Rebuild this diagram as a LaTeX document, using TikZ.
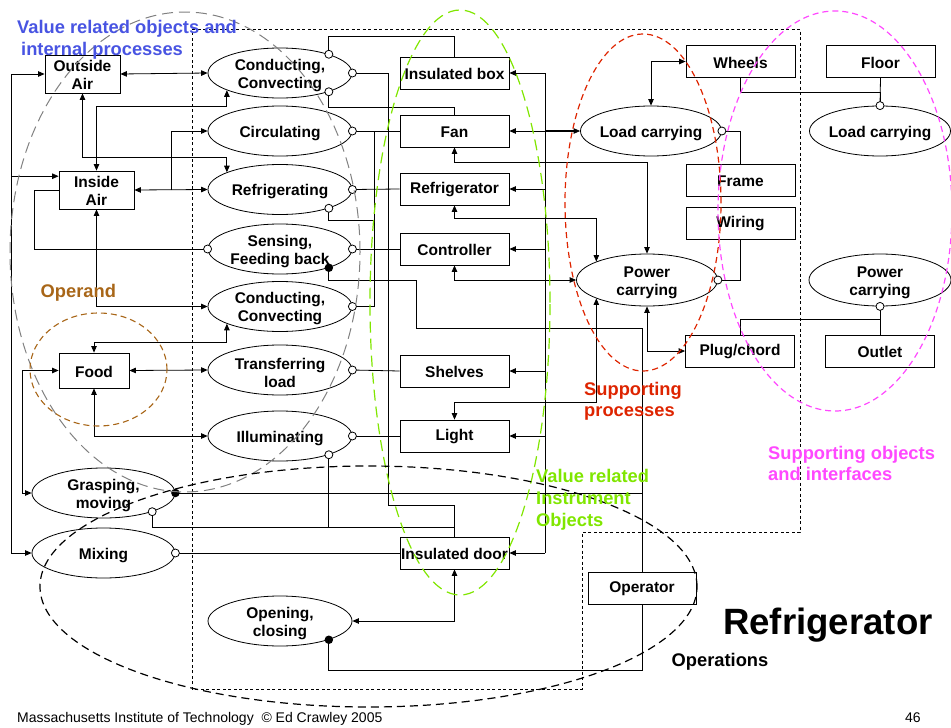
\documentclass[tikz,border=0pt]{standalone}
\usepackage{fontspec}
\setmainfont{Liberation Sans}
\usetikzlibrary{arrows.meta,shapes.geometric,calc}

\definecolor{lblblue}{RGB}{72,84,226}
\definecolor{lblbrown}{RGB}{168,102,24}
\definecolor{lblred}{RGB}{222,36,0}
\definecolor{lblgreen}{RGB}{128,230,0}
\definecolor{lblmagenta}{RGB}{255,72,255}

\begin{document}
\begin{tikzpicture}[x=1pt,y=-1pt,
  >={Triangle[length=6.5pt,width=5.5pt]},
  every node/.style={font=\bfseries\fontsize{15.5}{18}\selectfont},
  obj/.style={draw, line width=0.8pt, fill=white, inner sep=0pt,
    minimum width=109pt, minimum height=32pt, align=center,
    label={[inner sep=0pt, align=center, yshift=-1pt]center:#1}},
  proc/.style={ellipse, draw, line width=0.8pt, fill=white, inner sep=0pt,
    minimum width=144pt, minimum height=50pt,
    label={[inner sep=0pt, align=center, yshift=-2.5pt]center:#1}},
  link/.style={line width=0.8pt},
  ocirc/.style={circle, draw, line width=0.8pt, fill=white, inner sep=0pt, minimum size=8pt},
  fcirc/.style={circle, fill=black, inner sep=0pt, minimum size=8.5pt},
  grp/.style={font=\bfseries\fontsize{18.3}{21.5}\selectfont, anchor=base west, inner sep=0pt},
]
\useasboundingbox (0,0) rectangle (951,728);

% ---------- operand objects ----------
\node[obj={Outside\\Air}, minimum width=75pt, minimum height=38pt] (oair) at (82.5,74) {};
\node[obj={Inside\\Air}, minimum width=75pt, minimum height=38pt] (iair) at (96.5,190) {};
\node[obj=Food, minimum width=70pt, minimum height=35pt] (food) at (94,370.5) {};

% ---------- value related processes ----------
\node[proc={Conducting,\\Convecting}] (cc1)   at (280,73)    {};
\node[proc=Circulating]               (circ)  at (280,131)   {};
\node[proc=Refrigerating]             (refg)  at (280,189.5) {};
\node[proc={Sensing,\\Feeding back}]  (sens)  at (280,249)   {};
\node[proc={Conducting,\\Convecting}] (cc2)   at (280,306.5) {};
\node[proc={Transferring\\load}]      (trans) at (280,370)   {};
\node[proc=Illuminating]              (illum) at (280,436)   {};
\node[proc={Grasping,\\moving}, minimum width=143pt] (grasp) at (103.5,493) {};
\node[proc=Mixing, minimum width=143pt]              (mix)   at (103.5,553) {};
\node[proc={Opening,\\closing}]       (opcl)  at (280,621)   {};

% ---------- instrument objects ----------
\node[obj={Insulated box}]  (ibox)  at (454.5,73)  {};
\node[obj=Fan]              (fan)   at (454.5,131) {};
\node[obj=Refrigerator]     (refr)  at (454.5,189) {};
\node[obj=Controller]       (ctrl)  at (454.5,249) {};
\node[obj=Shelves]          (shelf) at (454.5,371) {};
\node[obj=Light]            (light) at (454.5,436) {};
\node[obj={Insulated door}] (door)  at (454.5,553) {};

% ---------- supporting processes and objects ----------
\node[proc={Load carrying}, minimum width=141pt] (lc1) at (651,131) {};
\node[proc={Power\\carrying}, minimum width=141pt, minimum height=52pt] (pc1) at (647,280) {};
\node[proc={Load carrying}, minimum width=141pt] (lc2) at (880,131) {};
\node[proc={Power\\carrying}, minimum width=142pt, minimum height=52pt] (pc2) at (880,280) {};
\node[obj=Wheels]       (wheels) at (740.5,61.5) {};
\node[obj=Floor]        (floor)  at (880.5,61.5) {};
\node[obj=Frame]        (frame)  at (740.5,180)  {};
\node[obj=Wiring]       (wiring) at (740.5,223)  {};
\node[obj=Plug/chord]   (plug)   at (740,351)    {};
\node[obj=Outlet]       (outlet) at (880,351)    {};
\node[obj=Operator, minimum width=108pt] (op) at (642,588) {};

% ---------- links on the operand side ----------
\begin{scope}[link]
\draw[<->] (oair.west) -- ++(-33,0) |- (mix.west);
\draw[->] ($(oair.west)+(-33,0)$) |- (iair.160);
\draw[<->] (food.west) -- ++(-36,0) |- (grasp.west);
\draw (sens.west) -| ($(iair.west)+(-24,0)$) -- (iair.west);
\draw[<->] (oair.east) -- (cc1.west);
\draw[<->] (oair.south) |- ($(refg.162)+(0,-15)$) -- (refg.162);
\draw[<->] (iair.north) |- ($(cc1.198)+(0,16)$) -- (cc1.198);
\draw[<->] (iair.east) -- (refg.west);
\draw[->] ($(iair.east)+(37,0)$) |- (circ.west);
\draw[<->] (iair.south) |- (cc2.west);
\draw[<->] (food.north) |- ($(cc2.198)+(0,19)$) -- (cc2.198);
\draw[<->] (food.east) -- (trans.west);
\draw[<->] (food.south) |- (illum.west);

% ---------- processes to instrument objects ----------
\draw (cc1.21) -- ++(0,-17.5) -| (ibox.north);
\draw (cc1.east) -| (388,505) -| (door.north);
\draw (cc1.339) -- ++(0,15.5) -| (fan.north);
\draw (circ.east) -- (fan.west);
\draw (refg.east) -- (refr.west);
\draw (refg.339) |- (374,220);
\draw (cc2.east) -| (374,131) -- (fan.west);
\draw (sens.east) -- (ctrl.west);
\draw (trans.east) -- (shelf.west);
\draw (illum.east) -- (light.west);
\draw (illum.339) |- ($(door.north)+(0,-9.5)$) -- (door.north);
\draw (grasp.339) |- ($(door.north)+(0,-9.5)$);
\draw (mix.east) -- (door.west);
\draw[<->] (door.south) |- (opcl.east);

% ---------- operator ----------
\draw (sens.339) |- (416,280) -- (416,328) -| (op.north);
\draw (grasp.east) -| (op.north);
\draw (opcl.339) -- ++(0,31) -| (op.south);

% ---------- supporting side ----------
\coordinate (bus) at (545,0);
\draw (bus |- ibox.east) -- (bus |- door.east);
\foreach \bx in {ibox,refr,ctrl,shelf,light,door}
  \draw[->] (bus |- \bx.east) -- (\bx.east);
\draw[<->] (fan.east) -- (lc1.west);
\draw[line width=1.4pt] (bus |- lc1.west) -- ($(lc1.west)+(-6,0)$);
\draw[<->] (fan.south) -- ++(0,15) -| (pc1.north);
\draw[<->] (refr.south) -- ++(0,13) -| (pc1.160);
\draw[<->] (ctrl.south) |- (pc1.west);
\draw[<->] (light.north) -- ++(0,-17) -| (pc1.200);
\draw[<->] (pc1.south) |- (plug.west);
\draw[<->] (lc1.north) |- (wheels.west);
\draw (lc1.east) -| (frame.north);
\draw (pc1.east) -| (wiring.south);
\draw (wheels.south) -- ++(0,14) -| (lc2.north);
\draw (floor.south) -- (lc2.north);
\draw (plug.north) -- ++(0,-15) -| (pc2.south);
\draw (outlet.north) -- (pc2.south);
\end{scope}

% ---------- link ends ----------
\foreach \pt in {cc1.21, cc1.east, cc1.339, circ.east, refg.east, refg.339,
  sens.west, sens.east, cc2.east, trans.east, illum.east, illum.339,
  grasp.339, mix.east, lc1.east, pc1.east, lc2.north, pc2.south}
  \node[ocirc] at (\pt) {};
\foreach \pt in {sens.339, grasp.east, opcl.339}
  \node[fcirc] at (\pt) {};

% ---------- boundaries and groupings ----------
\draw[dash pattern=on 3pt off 2.5pt, line width=0.7pt]
  (192,29) -- (800,29) -- (800,532) -- (582,532) -- (582,689) -- (192,689) -- cycle;
\draw[gray, dash pattern=on 11pt off 6pt, line width=1pt]
  (185,252) ellipse [x radius=175pt, y radius=240pt];
\draw[lblbrown, dash pattern=on 6pt off 4pt, line width=1.1pt]
  (98.5,369.5) ellipse [x radius=68.5pt, y radius=56.5pt];
\draw[lblgreen, dash pattern=on 11pt off 6pt, line width=1.2pt]
  (460,302.5) ellipse [x radius=90pt, y radius=292.5pt];
\draw[lblred, dash pattern=on 6pt off 4pt, line width=1.2pt]
  (643,202.5) ellipse [x radius=78pt, y radius=168.5pt];
\draw[lblmagenta, dash pattern=on 6pt off 4pt, line width=1.2pt]
  (835,211) ellipse [x radius=117pt, y radius=200pt];
\draw[dash pattern=on 8pt off 5pt, line width=1.2pt]
  (368.5,586.5) ellipse [x radius=328.5pt, y radius=120.5pt];

% ---------- group labels ----------
\node[grp, text=lblblue] (lv1) at (17,33) {Value related objects and};
\node[grp, text=lblblue] (lv2) at (21,55) {internal processes};
\node[grp, text=lblbrown] (lop) at (40.5,297) {Operand};
\node[grp, text=lblred] (ls1) at (584,395.5) {Supporting};
\node[grp, text=lblred] (ls2) at (584,416.5) {processes};
\node[grp, text=lblgreen] (li1) at (536,482) {Value related};
\node[grp, text=lblgreen] (li2) at (536,504) {Instrument};
\node[grp, text=lblgreen] (li3) at (536,526) {Objects};
\node[grp, text=lblmagenta] (lo1) at (768,459) {Supporting objects};
\node[grp, text=lblmagenta] (lo2) at (768,480) {and interfaces};

\node[anchor=base west, inner sep=0pt, font=\bfseries\fontsize{36.6}{40}\selectfont] (ttl) at (723,634) {Refrigerator};
\node[grp] (lops) at (671.5,666) {Operations};
\node[anchor=base west, inner sep=0pt, font=\fontsize{14}{16}\selectfont] (foot) at (17,722.5)
  {Massachusetts Institute of Technology\ \ © Ed Crawley 2005};
\node[anchor=base west, inner sep=0pt, font=\fontsize{14}{16}\selectfont] (pg) at (905,722.5) {46};
\end{tikzpicture}
\end{document}
